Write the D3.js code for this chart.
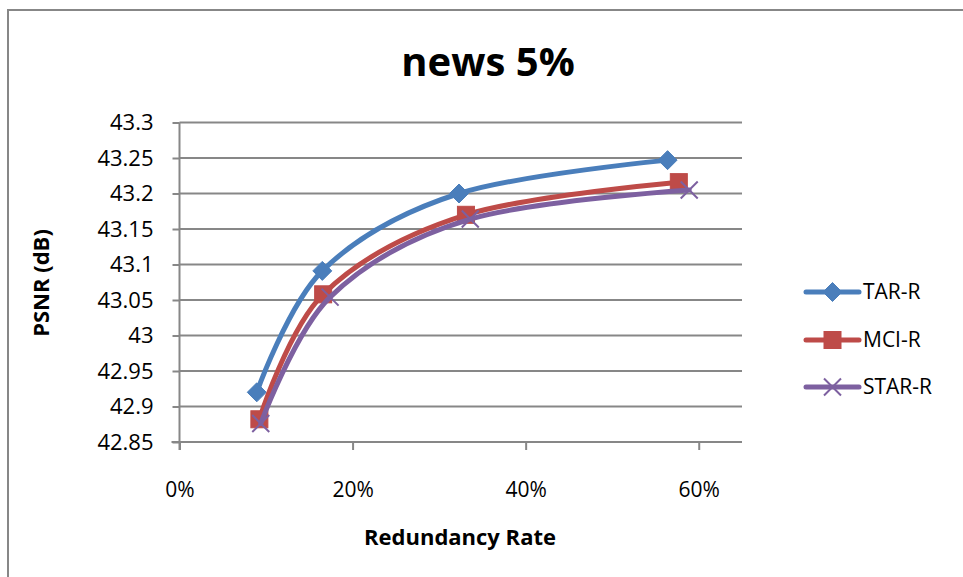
<!DOCTYPE html>
<html>
<head>
<meta charset="utf-8">
<script src="https://cdn.jsdelivr.net/npm/d3@7"></script>
<style>
  html, body { margin: 0; padding: 0; background: #fff; }
  svg { display: block; }
  text { font-family: "Open Sans", "Noto Sans", "Liberation Sans", sans-serif; fill: #000; }
</style>
</head>
<body>
<svg id="chart" width="963" height="577"></svg>
<script>
// Redundancy rate (fraction) against PSNR for the three schemes
const seriesNames = ["TAR-R", "MCI-R", "STAR-R"];
const tarRate  = [0.0893, 0.165, 0.323, 0.564];
const tarPsnr  = [42.920, 43.091, 43.200, 43.247];
const mciRate  = [0.0923, 0.166, 0.331, 0.577];
const mciPsnr  = [42.882, 43.058, 43.170, 43.216];
const starRate = [0.0939, 0.174, 0.336, 0.589];
const starPsnr = [42.876, 43.054, 43.164, 43.205];
const yTicks = [42.85, 42.9, 42.95, 43, 43.05, 43.1, 43.15, 43.2, 43.25, 43.3];
const yTickLabels = ["42.85", "42.9", "42.95", "43", "43.05", "43.1", "43.15", "43.2", "43.25", "43.3"];
const xTicks = [0, 0.2, 0.4, 0.6];
const xTickLabels = ["0%", "20%", "40%", "60%"];

const colors = ["#4A7EBB", "#BE4B48", "#7D60A0"];
const markers = ["diamond", "square", "cross"];

const series = [
  { name: seriesNames[0], x: tarRate,  y: tarPsnr },
  { name: seriesNames[1], x: mciRate,  y: mciPsnr },
  { name: seriesNames[2], x: starRate, y: starPsnr }
].map((s, i) => ({
  ...s, color: colors[i], marker: markers[i],
  pts: s.x.map((v, j) => [v, s.y[j]])
}));

const svg = d3.select("#chart");
const plot = { left: 179.5, right: 742, top: 122.5, bottom: 442 };

const x = d3.scaleLinear().domain([0, 0.65]).range([plot.left, plot.right]);
const y = d3.scaleLinear().domain([42.85, 43.3]).range([plot.bottom, plot.top]);

const grey = "#878787";

// chart frame
svg.append("rect")
  .attr("x", 8).attr("y", 10).attr("width", 1000).attr("height", 600)
  .attr("fill", "none").attr("stroke", grey).attr("stroke-width", 2);

// title
svg.append("text")
  .attr("x", 488).attr("y", 76)
  .attr("text-anchor", "middle")
  .style("font-size", "40px").style("font-weight", "bold")
  .text("news 5%");

// horizontal gridlines
svg.append("g")
  .selectAll("line")
  .data(yTicks.slice(1))
  .join("line")
  .attr("x1", plot.left).attr("x2", plot.right)
  .attr("y1", d => y(d)).attr("y2", d => y(d))
  .attr("stroke", grey).attr("stroke-width", 2);

// y axis
const yAxis = d3.axisLeft(y)
  .tickValues(yTicks)
  .tickFormat((d, i) => yTickLabels[i])
  .tickSizeInner(7).tickSizeOuter(0).tickPadding(19);
const gy = svg.append("g").attr("transform", `translate(${plot.left},0)`).call(yAxis);
gy.select(".domain").attr("stroke", grey).attr("stroke-width", 2)
  .attr("d", `M0,${plot.bottom + 8}V${plot.top}`);
gy.selectAll(".tick line").attr("stroke", grey).attr("stroke-width", 2);
gy.selectAll(".tick text").style("font-size", "22px").attr("font-family", null);

// x axis
const xAxis = d3.axisBottom(x)
  .tickValues(xTicks)
  .tickFormat((d, i) => xTickLabels[i])
  .tickSizeInner(8).tickSizeOuter(0).tickPadding(32);
const gx = svg.append("g").attr("transform", `translate(0,${plot.bottom})`).call(xAxis);
gx.select(".domain").attr("stroke", grey).attr("stroke-width", 2)
  .attr("d", `M${plot.left - 8},0H${plot.right}`);
gx.selectAll(".tick line").attr("stroke", grey).attr("stroke-width", 2);
gx.selectAll(".tick text").style("font-size", "21px").attr("font-family", null);

// axis titles
svg.append("text")
  .attr("x", 460).attr("y", 545)
  .attr("text-anchor", "middle")
  .style("font-size", "22px").style("font-weight", "bold")
  .text("Redundancy Rate");

svg.append("text")
  .attr("transform", "translate(49,283) rotate(-90)")
  .attr("text-anchor", "middle")
  .style("font-size", "22px").style("font-weight", "bold")
  .text("PSNR (dB)");

// marker drawing
function drawMarker(g, type, color, cx, cy) {
  if (type === "diamond") {
    g.append("path")
      .attr("d", `M${cx},${cy - 9.5}L${cx + 9.5},${cy}L${cx},${cy + 9.5}L${cx - 9.5},${cy}Z`)
      .attr("fill", color).attr("stroke", color).attr("stroke-width", 1);
  } else if (type === "square") {
    g.append("rect")
      .attr("x", cx - 8.5).attr("y", cy - 8.5).attr("width", 17).attr("height", 17)
      .attr("fill", color).attr("stroke", color).attr("stroke-width", 1);
  } else {
    g.append("path")
      .attr("d", `M${cx - 8.5},${cy - 8.5}L${cx + 8.5},${cy + 8.5}M${cx - 8.5},${cy + 8.5}L${cx + 8.5},${cy - 8.5}`)
      .attr("stroke", color).attr("stroke-width", 2).attr("fill", "none");
  }
}

// series lines and markers
const line = d3.line()
  .x(d => x(d[0])).y(d => y(d[1]))
  .curve(d3.curveCardinal.tension(0));

series.forEach(s => {
  svg.append("path")
    .datum(s.pts)
    .attr("d", line)
    .attr("fill", "none")
    .attr("stroke", s.color)
    .attr("stroke-width", 5)
    .attr("stroke-linecap", "round")
    .attr("stroke-linejoin", "round");
  const g = svg.append("g");
  s.pts.forEach(p => drawMarker(g, s.marker, s.color, x(p[0]), y(p[1])));
});

// legend
const legendY = [292, 340, 387];
series.forEach((s, i) => {
  const g = svg.append("g");
  g.append("line")
    .attr("x1", 806).attr("x2", 859)
    .attr("y1", legendY[i]).attr("y2", legendY[i])
    .attr("stroke", s.color).attr("stroke-width", 5)
    .attr("stroke-linecap", "round");
  drawMarker(g, s.marker, s.color, 832.5, legendY[i]);
  g.append("text")
    .attr("x", 863).attr("y", legendY[i])
    .attr("dy", "0.35em")
    .style("font-size", "21px")
    .text(s.name);
});
</script>
</body>
</html>
